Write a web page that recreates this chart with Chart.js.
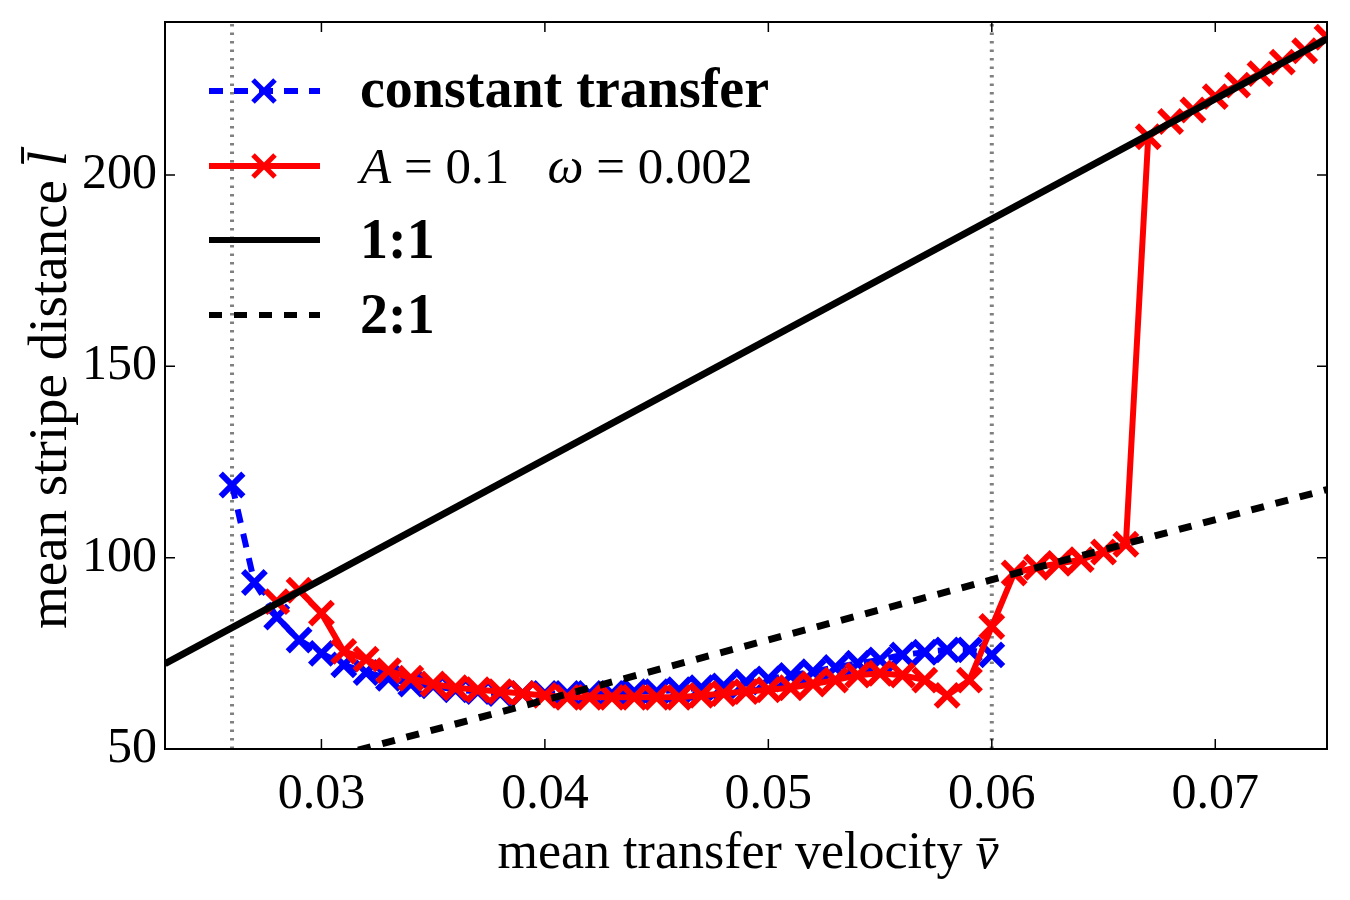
<!DOCTYPE html>
<html>
<head>
<meta charset="utf-8">
<script src="https://cdn.jsdelivr.net/npm/chart.js@4.4.0/dist/chart.umd.min.js"></script>
<style>
  html, body { margin: 0; padding: 0; background: #fff; }
</style>
</head>
<body>
<canvas id="c" width="1350" height="900"></canvas>
<script>
// constant transfer (blue)
const velBlue = [0.026, 0.027, 0.028, 0.029, 0.030, 0.031, 0.032, 0.033, 0.034, 0.035,
  0.036, 0.037, 0.038, 0.039, 0.040, 0.041, 0.042, 0.043, 0.044, 0.045,
  0.046, 0.047, 0.048, 0.049, 0.050, 0.051, 0.052, 0.053, 0.054, 0.055,
  0.056, 0.057, 0.058, 0.059, 0.060];
const distBlue = [119, 93.5, 84.5, 78.5, 75, 72, 70, 68.5, 67, 66.5,
  65.5, 65, 64.5, 64.5, 64.5, 64.5, 64.5, 64.5, 65, 65,
  65.5, 66, 66.5, 67.5, 68.3, 69.2, 70.2, 71.3, 72.4, 73.3,
  74.6, 75.3, 75.9, 75.9, 74.6];

// A = 0.1, omega = 0.002 (red)
const velRed = [0.028, 0.029, 0.030, 0.031, 0.032, 0.033, 0.034, 0.035, 0.036, 0.037,
  0.038, 0.039, 0.040, 0.041, 0.042, 0.043, 0.044, 0.045, 0.046, 0.047,
  0.048, 0.049, 0.050, 0.051, 0.052, 0.053, 0.054, 0.055, 0.056, 0.057,
  0.058, 0.059, 0.060, 0.061, 0.062, 0.063, 0.064, 0.065, 0.066, 0.067,
  0.068, 0.069, 0.070, 0.071, 0.072, 0.073, 0.074, 0.075];
const distRed = [88.5, 91.5, 85.5, 75.5, 73.5, 70.5, 68.5, 67, 66, 65.5,
  65, 64.5, 64, 63.5, 63.5, 63.5, 63.5, 63.5, 63.5, 64,
  64.5, 65, 65.5, 66, 67, 68, 69.3, 69.8, 69.3, 68,
  64, 68, 82, 96, 97.5, 98.5, 99.5, 101.5, 103.5, 210,
  214, 217, 220.5, 223.5, 226.5, 229.5, 232.5, 236];

// reference lines, end points
const refVel = [0.023, 0.075];
const ref11 = [72.3, 235.6];
const ref21 = [36.1, 117.8];

// dotted vertical markers
const markVel = [0.026, 0.060];

const xTicks = [0.03, 0.04, 0.05, 0.06, 0.07];
const yTicks = [50, 100, 150, 200];
const xMin = 0.023, xMax = 0.075, yMin = 50, yMax = 240;

const serif = '"Liberation Serif", "DejaVu Serif", serif';
const pts = (xs, ys) => xs.map((x, i) => ({ x: x, y: ys[i] }));
const vline = (x) => [{ x: x, y: yMin }, { x: x, y: yMax }];

// draws a run of text pieces [fontStyle, text] from x, returns the end x
function drawRun(ctx, parts, x, y, size) {
  parts.forEach(p => {
    ctx.font = (p[0] ? p[0] + " " : "") + size + "px " + serif;
    ctx.fillText(p[1], x, y);
    x += ctx.measureText(p[1]).width;
  });
  return x;
}
function runWidth(ctx, parts, size) {
  let w = 0;
  parts.forEach(p => {
    ctx.font = (p[0] ? p[0] + " " : "") + size + "px " + serif;
    w += ctx.measureText(p[1]).width;
  });
  return w;
}

const framePlugin = {
  id: "frame",
  afterDatasetsDraw(chart) {
    const ctx = chart.ctx;
    const a = chart.chartArea;
    const sx = chart.scales.x, sy = chart.scales.y;
    ctx.save();
    ctx.strokeStyle = "#000";
    ctx.lineWidth = 2;
    ctx.strokeRect(a.left, a.top, a.right - a.left, a.bottom - a.top);
    ctx.lineWidth = 1.5;
    ctx.beginPath();
    xTicks.forEach(v => {
      const px = sx.getPixelForValue(v);
      ctx.moveTo(px, a.bottom); ctx.lineTo(px, a.bottom - 10);
      ctx.moveTo(px, a.top); ctx.lineTo(px, a.top + 10);
    });
    yTicks.forEach(v => {
      const py = sy.getPixelForValue(v);
      ctx.moveTo(a.left, py); ctx.lineTo(a.left + 10, py);
      ctx.moveTo(a.right, py); ctx.lineTo(a.right - 10, py);
    });
    ctx.stroke();
    ctx.restore();
  },
  afterDraw(chart) {
    const ctx = chart.ctx;
    ctx.save();
    ctx.fillStyle = "#000";
    ctx.textBaseline = "alphabetic";
    ctx.textAlign = "left";

    // x axis title
    let parts = [["", "mean transfer velocity "], ["italic", "v\u0304"]];
    let w = runWidth(ctx, parts, 52);
    drawRun(ctx, parts, 748 - w / 2, 868, 52);

    // y axis title
    ctx.save();
    ctx.translate(66, 390);
    ctx.rotate(-Math.PI / 2);
    parts = [["", "mean stripe distance "], ["italic", "l\u0304"]];
    w = runWidth(ctx, parts, 55);
    drawRun(ctx, parts, -w / 2, 0, 55);
    ctx.restore();

    // legend
    const rows = [
      { y: 91, color: "#0000ff", dash: [14, 11], marker: true },
      { y: 166, color: "#ff0000", dash: [], marker: true },
      { y: 240, color: "#000", dash: [], marker: false },
      { y: 315, color: "#000", dash: [13, 12], marker: false }
    ];
    rows.forEach(r => {
      ctx.save();
      ctx.strokeStyle = r.color;
      ctx.lineWidth = 6;
      ctx.setLineDash(r.dash);
      ctx.beginPath();
      ctx.moveTo(209, r.y); ctx.lineTo(320, r.y);
      ctx.stroke();
      if (r.marker) {
        ctx.setLineDash([]);
        ctx.lineWidth = 5;
        const m = 11;
        ctx.beginPath();
        ctx.moveTo(264 - m, r.y - m); ctx.lineTo(264 + m, r.y + m);
        ctx.moveTo(264 - m, r.y + m); ctx.lineTo(264 + m, r.y - m);
        ctx.stroke();
      }
      ctx.restore();
    });
    const tx = 360;
    ctx.font = "bold 56px " + serif;
    ctx.fillText("constant transfer", tx, 107);
    ctx.fillText("1:1", tx, 258);
    ctx.fillText("2:1", tx, 333);
    drawRun(ctx, [["italic", "A"], ["", " = 0.1   "], ["italic", "\u03c9"], ["", " = 0.002"]], tx, 183, 51);
    ctx.restore();
  }
};

const ctx = document.getElementById("c").getContext("2d");
const chart = new Chart(ctx, {
  type: "scatter",
  data: {
    datasets: [
      {
        label: "1:1",
        data: pts(refVel, ref11),
        showLine: true,
        borderColor: "#000",
        borderWidth: 7,
        pointRadius: 0,
        order: 0
      },
      {
        label: "2:1",
        data: pts(refVel, ref21),
        showLine: true,
        borderColor: "#000",
        borderWidth: 7,
        borderDash: [13, 12],
        pointRadius: 0,
        order: 1
      },
      {
        label: "A = 0.1  \u03c9 = 0.002",
        data: pts(velRed, distRed),
        showLine: true,
        borderColor: "#ff0000",
        borderWidth: 6,
        pointStyle: "crossRot",
        pointRadius: 16,
        pointBorderWidth: 6,
        pointBorderColor: "#ff0000",
        pointBackgroundColor: "#ff0000",
        order: 2
      },
      {
        label: "constant transfer",
        data: pts(velBlue, distBlue),
        showLine: true,
        borderColor: "#0000ff",
        borderWidth: 6,
        borderDash: [14, 11],
        pointStyle: "crossRot",
        pointRadius: 16,
        pointBorderWidth: 6,
        pointBorderColor: "#0000ff",
        pointBackgroundColor: "#0000ff",
        order: 3
      },
      {
        label: "left mark",
        data: vline(markVel[0]),
        showLine: true,
        borderColor: "#808080",
        borderWidth: 4,
        borderDash: [2.5, 6],
        pointRadius: 0,
        order: 4
      },
      {
        label: "right mark",
        data: vline(markVel[1]),
        showLine: true,
        borderColor: "#808080",
        borderWidth: 4,
        borderDash: [2.5, 6],
        pointRadius: 0,
        order: 5
      }
    ]
  },
  options: {
    responsive: false,
    animation: false,
    events: [],
    layout: { padding: { top: 22, right: 23, left: 0, bottom: 0 } },
    plugins: {
      legend: { display: false },
      tooltip: { enabled: false }
    },
    scales: {
      x: {
        type: "linear",
        min: xMin,
        max: xMax,
        grid: { display: false, drawTicks: false },
        border: { display: false },
        afterBuildTicks: s => { s.ticks = xTicks.map(v => ({ value: v })); },
        afterFit: s => { s.height = 151; s.paddingLeft = 0; s.paddingRight = 0; },
        ticks: {
          color: "#000",
          padding: 16,
          maxRotation: 0,
          font: { family: serif, size: 50 },
          callback: v => v.toFixed(2)
        }
      },
      y: {
        type: "linear",
        min: yMin,
        max: yMax,
        grid: { display: false, drawTicks: false },
        border: { display: false },
        afterBuildTicks: s => { s.ticks = yTicks.map(v => ({ value: v })); },
        afterFit: s => { s.width = 165; s.paddingTop = 0; s.paddingBottom = 0; },
        ticks: {
          color: "#000",
          padding: 8,
          font: { family: serif, size: 50 },
          callback: v => String(v)
        }
      }
    }
  },
  plugins: [framePlugin]
});
</script>
</body>
</html>
